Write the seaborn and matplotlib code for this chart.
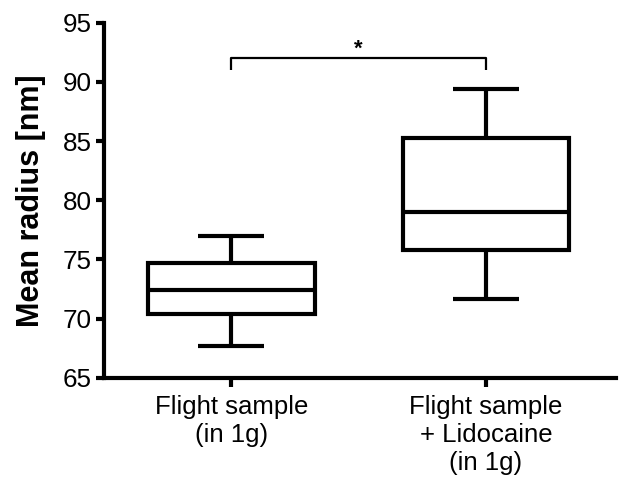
import matplotlib
matplotlib.use('Agg')
import matplotlib.pyplot as plt
import seaborn as sns
import pandas as pd

# Five-number summaries (min, Q1, median, Q3, max)
groups = ['Flight sample\n(in 1g)', 'Flight sample\n+ Lidocaine\n(in 1g)']
flight_1g = [67.7, 70.4, 72.4, 74.7, 77.0]
flight_lido = [71.65, 75.75, 79.0, 85.25, 89.4]
y_ticks = [65, 70, 75, 80, 85, 90, 95]
bracket_y = 92.0
bracket_drop = 91.0

sns.set_theme(style='ticks')
plt.rcParams['font.family'] = ['Liberation Sans', 'DejaVu Sans']
plt.rcParams['text.color'] = 'black'
plt.rcParams['axes.labelcolor'] = 'black'

df = pd.DataFrame({
    'group': [groups[0]] * len(flight_1g) + [groups[1]] * len(flight_lido),
    'radius': flight_1g + flight_lido,
})

box_w = 0.655
cap_w = 0.26

fig = plt.figure(figsize=(6.21, 4.83), dpi=100)
ax = fig.add_axes([0.1675, 0.218, 0.824, 0.735])

sns.boxplot(data=df, x='group', y='radius', order=groups, ax=ax,
            color='white', linecolor='black', linewidth=3,
            width=box_w, whis=(0, 100), showfliers=False)

# narrower whisker caps, as in the original (median keeps full box width)
for ln in ax.lines:
    xd = [float(v) for v in ln.get_xdata()]
    yd = [float(v) for v in ln.get_ydata()]
    if len(xd) == 2 and yd[0] == yd[1] and abs(xd[1] - xd[0]) < box_w * 0.8:
        mid = (xd[0] + xd[1]) / 2
        ln.set_data([mid - cap_w / 2, mid + cap_w / 2], yd)
    ln.set_solid_capstyle('butt')

# significance bracket
ax.plot([0, 0, 1, 1], [bracket_drop, bracket_y, bracket_y, bracket_drop],
        color='black', lw=1.6, solid_capstyle='butt')
ax.text(0.5, bracket_y + 0.75, '*', ha='center', va='center', fontsize=16,
        fontweight='bold', color='black')

ax.set_xlim(-0.5, 1.51)
ax.set_ylim(65, 95)
ax.set_yticks(y_ticks)
ax.set_xlabel('')
ax.set_ylabel('Mean radius [nm]', fontsize=22, fontweight='bold', labelpad=12,
              color='black')

sns.despine(ax=ax)
for side in ['left', 'bottom']:
    ax.spines[side].set_linewidth(3)
    ax.spines[side].set_color('black')

ax.tick_params(axis='y', length=6, width=3, labelsize=18.7, pad=3, colors='black')
ax.tick_params(axis='x', length=6.5, width=3, labelsize=18.5, pad=6, colors='black')

fig.savefig('out.png', dpi=100)
